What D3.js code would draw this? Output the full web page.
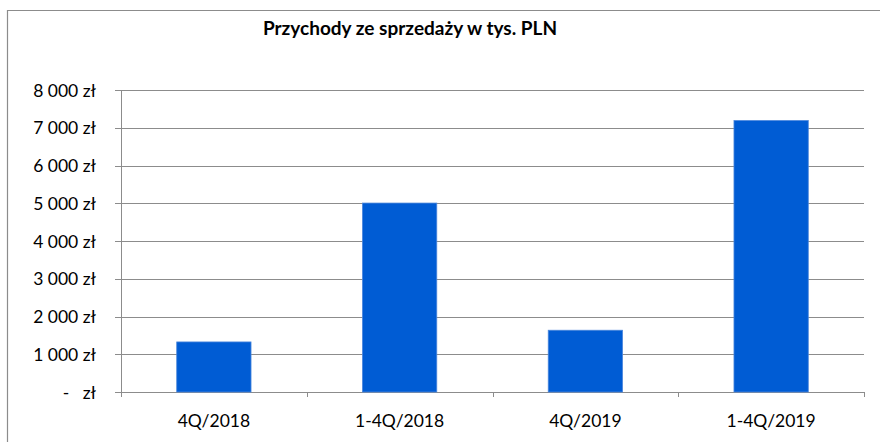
<!DOCTYPE html>
<html><head><meta charset="utf-8">
<script src="https://cdn.jsdelivr.net/npm/d3@7"></script>
<style>body{margin:0;background:#fff}svg{display:block}text{font-family:Lato,"Open Sans",sans-serif}</style>
</head><body>
<svg id="c" width="880" height="442"></svg>
<script>
const title = "Przychody ze sprzedaży w tys. PLN";
const categories = ["4Q/2018","1-4Q/2018","4Q/2019","1-4Q/2019"];
const values = [1326, 5005, 1636, 7190];
const yTicks = [0,1000,2000,3000,4000,5000,6000,7000,8000];

const svg = d3.select("#c");
const m = {l:121, r:864, t:90, b:392};
// chart border
svg.append("path").attr("d","M7.5,442 V10.5 H880").attr("fill","none").attr("stroke","#8c8c8c").attr("stroke-width",1.2);

svg.append("text").attr("x",410).attr("y",35).attr("text-anchor","middle")
  .attr("font-weight","bold").attr("font-size",19).attr("fill","#000").text(title);

const x = d3.scaleBand().domain(categories).range([m.l,m.r]).paddingInner(0.6).paddingOuter(0.3);
const y = d3.scaleLinear().domain([0,8000]).range([m.b,m.t]);

const fmt = v => v===0 ? "-   zł" : d3.format(",")(v).replace(/,/g," ") + " zł";

// gridlines
svg.append("g").selectAll("line").data(yTicks).join("line")
  .attr("x1",m.l-6).attr("x2",m.r).attr("y1",d=>Math.round(y(d))+0.5).attr("y2",d=>Math.round(y(d))+0.5)
  .attr("stroke","#8c8c8c").attr("stroke-width",1);
// y axis line
svg.append("line").attr("x1",m.l+0.5).attr("x2",m.l+0.5).attr("y1",m.t).attr("y2",m.b+4).attr("stroke","#8c8c8c");
// y labels
svg.append("g").selectAll("text").data(yTicks).join("text")
  .attr("x",96).attr("y",d=>y(d)+6.5).attr("text-anchor","end").attr("font-size",17.5).attr("fill","#000")
  .attr("xml:space","preserve").style("white-space","pre")
  .text(fmt);

// x ticks at band boundaries
const bounds = d3.range(categories.length+1).map(i => m.l + i*(m.r-m.l)/categories.length);
svg.append("g").selectAll("line").data(bounds).join("line")
  .attr("x1",d=>Math.round(d)+0.5).attr("x2",d=>Math.round(d)+0.5).attr("y1",m.b).attr("y2",m.b+5)
  .attr("stroke","#8c8c8c");

// bars
svg.append("g").selectAll("rect").data(values).join("rect")
  .attr("x",(d,i)=>x(categories[i])).attr("width",x.bandwidth())
  .attr("y",d=>y(d)).attr("height",d=>y(0)-y(d))
  .attr("fill","#005cd4").attr("stroke","#4a86dc").attr("stroke-width",0.8);

// x labels
svg.append("g").selectAll("text").data(categories).join("text")
  .attr("x",d=>x(d)+x.bandwidth()/2).attr("y",427).attr("text-anchor","middle")
  .attr("font-size",17.5).attr("fill","#000").text(d=>d);
</script>
</body></html>
